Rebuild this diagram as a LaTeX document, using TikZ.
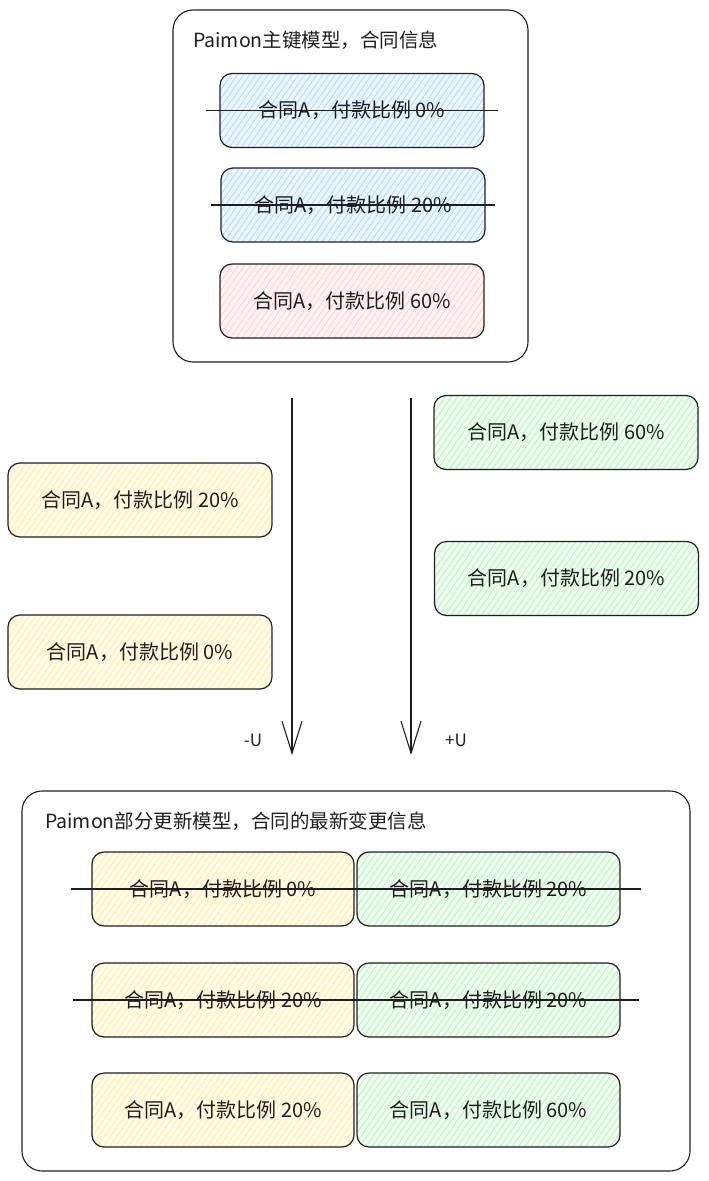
\documentclass[tikz,border=0pt]{standalone}
\usepackage{fontspec}
\setmainfont{Noto Sans CJK SC}
\usepackage{tikz}
\usetikzlibrary{positioning, patterns.meta, arrows.meta}
\tikzstyle{canvas} = [x = 1pt, y = -1pt]
\definecolor{inkColor}{HTML}{1E1E1E}
\definecolor{blueHatch}{HTML}{A5D8FF}
\definecolor{redHatch}{HTML}{FFC9C9}
\definecolor{yellowHatch}{HTML}{FFEC99}
\definecolor{greenHatch}{HTML}{B2F2BB}
\tikzset{hatched/.style = {preaction={fill=#1!22}, preaction={pattern={Lines[angle=55, distance=5pt, line width=.7pt]}, pattern color=#1}}}
\tikzstyle{modelStyle} = [draw=inkColor, line width=1.1pt, rounded corners=20pt, inner sep=0pt]
\tikzstyle{recordStyle} = [draw=inkColor, line width=1.2pt, rounded corners=12pt, minimum width=264pt, minimum height=74pt, text=inkColor, font=\fontsize{20}{24}\selectfont]
\tikzstyle{blueRecord} = [recordStyle, hatched=blueHatch]
\tikzstyle{redRecord} = [recordStyle, hatched=redHatch]
\tikzstyle{yellowRecord} = [recordStyle, hatched=yellowHatch]
\tikzstyle{greenRecord} = [recordStyle, hatched=greenHatch]
\tikzstyle{titleText} = [anchor=west, inner sep=0pt, text=inkColor, font=\fontsize{19.5}{23}\selectfont]
\tikzstyle{signText} = [inner sep=0pt, text=inkColor, font=\fontsize{17}{20}\selectfont]
\tikzstyle{strikeLine} = [draw=inkColor, line width=1.5pt]
\tikzstyle{changeArrow} = [draw=inkColor, line width=1.1pt, -{Straight Barb[length=32pt, width=20pt, line width=1.1pt]}]
\newcommand{\record}[5]{\node [#2] (#1) at (#3, #4) {合同A，付款比例 #5};}
\newcommand{\strikeRecord}[3]{\draw [strikeLine] ([xshift=-#3]#1.west) -- ([xshift=#3]#2.east);}

\begin{document}
\begin{tikzpicture}[canvas]
\useasboundingbox (0,0) rectangle (709,1181);
% primary key table
\node [modelStyle, minimum width=355pt, minimum height=352pt] (pkModel) at (350.5, 186) {};
\node [titleText] (pkTitle) at (193, 40) {Paimon主键模型，合同信息};
\record{pkRowA}{blueRecord}{352}{110.5}{0\%}
\record{pkRowB}{blueRecord}{353}{205}{20\%}
\record{pkRowC}{redRecord}{352}{301}{60\%}
\strikeRecord{pkRowA}{pkRowA}{13pt}
\strikeRecord{pkRowB}{pkRowB}{9pt}
% changelog
\coordinate (minusStart) at (292, 398);
\coordinate (minusEnd) at (292, 755);
\coordinate (plusStart) at (411, 398);
\coordinate (plusEnd) at (411, 755);
\draw [changeArrow] (minusStart) -- (minusEnd);
\draw [changeArrow] (plusStart) -- (plusEnd);
\node [signText] (minusSign) at (253, 740) {-U};
\node [signText] (plusSign) at (456, 740) {+U};
\record{minusOld}{yellowRecord}{140}{500}{20\%}
\record{minusOlder}{yellowRecord}{140}{652}{0\%}
\record{plusNew}{greenRecord}{566}{432.5}{60\%}
\record{plusOld}{greenRecord}{566.5}{578.5}{20\%}
% partial update table
\node [modelStyle, minimum width=668pt, minimum height=380pt] (puModel) at (356, 981) {};
\node [titleText] (puTitle) at (45, 821) {Paimon部分更新模型，合同的最新变更信息};
\record{puMinusA}{yellowRecord, minimum width=262pt}{223}{889}{0\%}
\record{puPlusA}{greenRecord, minimum width=263pt}{488.5}{889}{20\%}
\record{puMinusB}{yellowRecord, minimum width=262pt}{223}{1000}{20\%}
\record{puPlusB}{greenRecord, minimum width=263pt}{488.5}{1000}{20\%}
\record{puMinusC}{yellowRecord, minimum width=262pt}{223}{1110}{20\%}
\record{puPlusC}{greenRecord, minimum width=263pt}{488.5}{1110}{60\%}
\strikeRecord{puMinusA}{puPlusA}{20pt}
\strikeRecord{puMinusB}{puPlusB}{18pt}
\end{tikzpicture}
\end{document}
